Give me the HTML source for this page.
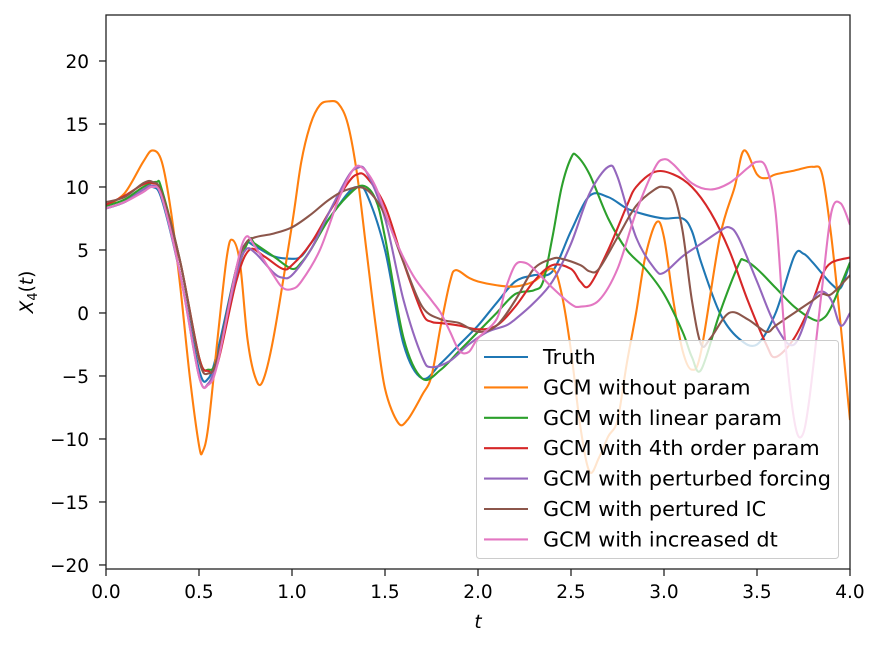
<!DOCTYPE html>
<html><head><meta charset="utf-8"><style>
body{margin:0;background:#fff;width:881px;height:647px;overflow:hidden}
svg{font-family:"DejaVu Sans","Liberation Sans",sans-serif}
</style></head><body>
<svg id="chart" width="881" height="647" xmlns="http://www.w3.org/2000/svg">
<rect width="881" height="647" fill="#fff"/>
<g id="plot"></g>
<g id="axes"></g>
<text x="478" y="628" font-size="18.5" text-anchor="middle" font-style="italic">t</text>
<text transform="translate(33,292) rotate(-90)" font-size="18.5" text-anchor="middle"><tspan font-style="italic">X</tspan><tspan font-size="13" dy="4">4</tspan><tspan dy="-4">(</tspan><tspan font-style="italic">t</tspan>)</text>
<g id="legend"></g>
</svg>
<script>
const seriesNames=["Truth","GCM without param","GCM with linear param","GCM with 4th order param","GCM with perturbed forcing","GCM with pertured IC","GCM with increased dt"];
const colors=["#1f77b4","#ff7f0e","#2ca02c","#d62728","#9467bd","#8c564b","#e377c2"];
const xTicks=[0,0.5,1,1.5,2,2.5,3,3.5,4];
const yTicks=[-20,-15,-10,-5,0,5,10,15,20];
const tTruth=[0,0.1,0.2,0.25,0.3,0.4,0.5,0.55,0.6,0.7,0.75,0.8,0.9,1.0,1.05,1.1,1.2,1.3,1.35,1.4,1.5,1.6,1.7,1.8,1.9,2.0,2.1,2.2,2.3,2.4,2.5,2.6,2.7,2.8,2.9,3.0,3.1,3.15,3.2,3.3,3.4,3.5,3.6,3.7,3.75,3.8,3.9,3.95,4.0];
const vTruth=[8.3,8.8,9.8,10,9,3,-4.5,-5.2,-3,3.5,5.5,5.3,4.5,4.3,4.5,5.5,7.5,9.5,10,9.5,5,-2.5,-5.2,-4,-2.5,-1,0.8,2.5,3,3.3,6.5,9.3,9.2,8.3,7.8,7.5,7.5,6.5,4,0,-2,-2.5,0,4.5,4.7,4,2.3,2,4];
const tNoParam=[0,0.1,0.2,0.25,0.3,0.35,0.4,0.45,0.5,0.52,0.55,0.6,0.65,0.68,0.72,0.76,0.8,0.84,0.9,1.0,1.05,1.1,1.15,1.2,1.25,1.3,1.35,1.4,1.45,1.5,1.57,1.62,1.7,1.75,1.8,1.85,1.88,1.95,2.0,2.1,2.2,2.3,2.4,2.45,2.5,2.55,2.6,2.65,2.7,2.75,2.8,2.85,2.9,2.96,3.0,3.05,3.1,3.15,3.2,3.3,3.38,3.43,3.5,3.55,3.6,3.7,3.8,3.85,3.9,3.95,4.0];
const vNoParam=[8.5,9.5,12,12.9,12,8,2,-5,-10.5,-11,-9,-2,4.5,5.8,4,-2,-5,-5.5,-2,7,12,15,16.5,16.8,16.6,15,11,5,-1,-6,-8.7,-8.5,-6.5,-5,-1,2.5,3.4,2.8,2.5,2.2,2.1,2.5,3.5,1.5,-3,-9,-12.6,-11.5,-9.8,-8.5,-4,0,4.5,7.2,6,1,-3,-4.5,-3,6,10,12.9,11,10.7,11,11.3,11.6,11,6,-1,-8.5];
const tLinear=[0,0.1,0.2,0.27,0.3,0.4,0.5,0.55,0.6,0.7,0.77,0.8,0.9,1.0,1.05,1.1,1.2,1.3,1.38,1.45,1.5,1.6,1.7,1.8,1.9,2.0,2.1,2.2,2.3,2.35,2.4,2.45,2.5,2.53,2.6,2.7,2.8,2.9,3.0,3.1,3.15,3.2,3.3,3.4,3.43,3.5,3.6,3.7,3.8,3.85,3.9,4.0];
const vLinear=[8.5,9,10,10.4,9.8,4,-3.5,-4.5,-3.5,3,5.8,5.5,4.5,3.5,4,5,7.5,9.3,10.1,9,6,-2,-5.2,-4.5,-3,-1.5,0,1.5,1.8,2.5,6,10,12.3,12.5,11,7.5,5,3.5,1.5,-1.5,-3.5,-4.5,0,3.8,4.2,3.5,2,0.5,-0.5,-0.5,0.5,4];
const t4th=[0,0.1,0.2,0.25,0.3,0.4,0.5,0.55,0.6,0.7,0.77,0.85,0.95,1.0,1.1,1.2,1.3,1.35,1.4,1.5,1.6,1.7,1.75,1.8,1.9,2.0,2.1,2.2,2.3,2.4,2.5,2.55,2.6,2.7,2.8,2.85,2.95,3.05,3.15,3.25,3.35,3.45,3.55,3.6,3.7,3.8,3.85,3.9,4.0];
const v4th=[8.6,9.3,10.2,10.3,9.5,4,-3.5,-4.6,-4,2.5,5,4.5,3.5,3.8,5.5,8,10.3,11,10.8,8.5,4,0,-0.7,-0.8,-1,-1.3,-1,0.5,2.5,3.8,3.5,2.5,2.2,5,8.5,10,11.2,11,10,8,5,1,-2.5,-3.5,-2,1,3,4,4.4];
const tForcing=[0,0.1,0.2,0.25,0.3,0.4,0.5,0.55,0.6,0.7,0.75,0.8,0.9,0.95,1.0,1.1,1.2,1.3,1.35,1.4,1.5,1.6,1.7,1.75,1.85,1.95,2.05,2.15,2.2,2.3,2.4,2.5,2.6,2.7,2.75,2.85,2.95,3.0,3.1,3.2,3.3,3.35,3.4,3.5,3.6,3.7,3.8,3.85,3.9,3.95,4.0];
const vForcing=[8.3,8.8,9.8,10.1,9.2,3,-5,-5.6,-3.5,3,5,4.8,3.2,2.8,3,5,8,10.8,11.5,11.2,7.5,1,-3.5,-4.3,-3.8,-2.5,-1.5,-1,-0.5,0.8,2.5,5.5,9.5,11.6,10.8,6,3.5,3.2,4.5,5.5,6.5,6.8,6,2.5,-1,-2.5,1,1.7,1,-1,0];
const tIC=[0,0.1,0.2,0.25,0.3,0.4,0.5,0.55,0.6,0.7,0.75,0.8,0.9,1.0,1.1,1.2,1.3,1.4,1.5,1.6,1.7,1.8,1.9,2.0,2.1,2.2,2.3,2.4,2.45,2.55,2.6,2.65,2.75,2.85,2.95,3.0,3.05,3.1,3.15,3.2,3.25,3.35,3.45,3.55,3.6,3.7,3.8,3.85,3.9,4.0];
const vIC=[8.8,9.2,10.3,10.4,9.5,4,-3.7,-4.8,-3.5,3.5,5.5,6,6.3,6.8,7.8,9,9.8,9.8,7.8,4,0.5,-0.5,-0.8,-1.5,-1,1,3.5,4.3,4.3,3.8,3.3,3.5,6,8.5,9.8,10,9.5,6.5,1,-2.5,-2,0,-0.5,-1.5,-1,0,1,1.5,1.5,3];
const tDt=[0,0.1,0.2,0.25,0.3,0.4,0.5,0.55,0.6,0.7,0.75,0.8,0.9,0.95,1.0,1.05,1.15,1.25,1.33,1.38,1.45,1.55,1.65,1.75,1.8,1.85,1.9,1.95,2.0,2.1,2.15,2.2,2.25,2.3,2.4,2.5,2.55,2.65,2.75,2.85,2.95,3.0,3.05,3.15,3.25,3.35,3.45,3.5,3.55,3.6,3.65,3.7,3.74,3.78,3.85,3.9,3.95,4.0];
const vDt=[8.3,8.8,9.6,10,9.2,3,-5,-5.7,-4,3.5,6,5.3,3,2,1.9,2.5,5,9,11.4,11.5,10,6,3,1,0,-1.5,-3,-3.1,-2,-0.5,2,3.8,4,3.5,2,0.7,0.5,1,3.5,8,11.5,12.2,11.8,10.3,9.8,10.3,11.5,12,11.5,8,-2,-8.5,-9.8,-7,2,8,8.7,7];
const seriesT=[tTruth,tNoParam,tLinear,t4th,tForcing,tIC,tDt];
const seriesV=[vTruth,vNoParam,vLinear,v4th,vForcing,vIC,vDt];

const L=106,R=850,T=15,B=569,xMin=0,xMax=4,yMin=-20.32,yMax=23.65;
const xs=t=>L+(t-xMin)/(xMax-xMin)*(R-L);
const ys=v=>B-(v-yMin)/(yMax-yMin)*(B-T);
const NS="http://www.w3.org/2000/svg";
function mk(tag,attrs,parent){const e=document.createElementNS(NS,tag);for(const k in attrs)e.setAttribute(k,attrs[k]);parent.appendChild(e);return e;}
function smooth(p){let d=`M${p[0][0].toFixed(2)},${p[0][1].toFixed(2)}`;for(let i=0;i<p.length-1;i++){const p0=p[i-1]||p[i],p1=p[i],p2=p[i+1],p3=p[i+2]||p2;const c1=[p1[0]+(p2[0]-p0[0])/6,p1[1]+(p2[1]-p0[1])/6],c2=[p2[0]-(p3[0]-p1[0])/6,p2[1]-(p3[1]-p1[1])/6];d+=`C${c1[0].toFixed(2)},${c1[1].toFixed(2)} ${c2[0].toFixed(2)},${c2[1].toFixed(2)} ${p2[0].toFixed(2)},${p2[1].toFixed(2)}`;}return d;}
const plot=document.getElementById('plot');
const defs=mk('defs',{},plot);
const cp=mk('clipPath',{id:'clip'},defs);mk('rect',{x:L,y:T,width:R-L,height:B-T},cp);
const lines=mk('g',{'clip-path':'url(#clip)'},plot);
seriesV.forEach((vals,si)=>{
  const pts=vals.map((v,i)=>[xs(seriesT[si][i]),ys(v)]);
  const p=mk('path',{d:smooth(pts),fill:'none',stroke:colors[si],'stroke-width':2.1,'stroke-linejoin':'round'},lines);
  
  
});
const axes=document.getElementById('axes');
const fr=mk('rect',{x:L,y:T,width:R-L,height:B-T,fill:'none',stroke:'#222','stroke-width':1.3},axes);


xTicks.forEach(t=>{const x=xs(t);mk('line',{x1:x,x2:x,y1:B,y2:B+7,stroke:'#222','stroke-width':1.3},axes);
  const tx=mk('text',{x:x,y:B+29,'font-size':18.5,'text-anchor':'middle'},axes);tx.textContent=t.toFixed(1);
  
  });
yTicks.forEach(v=>{const y=ys(v);mk('line',{x1:L-7,x2:L,y1:y,y2:y,stroke:'#222','stroke-width':1.3},axes);
  const tx=mk('text',{x:89,y:y+7,'font-size':18.5,'text-anchor':'end'},axes);tx.textContent=v<0?'\u2212'+Math.abs(v):String(v);
  
  });
const lg=document.getElementById('legend');
mk('rect',{x:476.5,y:340.5,width:362,height:218,rx:3,fill:'#fff','fill-opacity':0.8,stroke:'#ccc'},lg);
seriesNames.forEach((n,i)=>{const y=357+i*30.4;
  const g=mk('g',{},lg);
  
  
  mk('line',{x1:484,x2:528,y1:y,y2:y,stroke:colors[i],'stroke-width':2.1},g);
  const tx=mk('text',{x:543,y:y+7,'font-size':20.8},g);tx.textContent=n;});
</script>
</body></html>
